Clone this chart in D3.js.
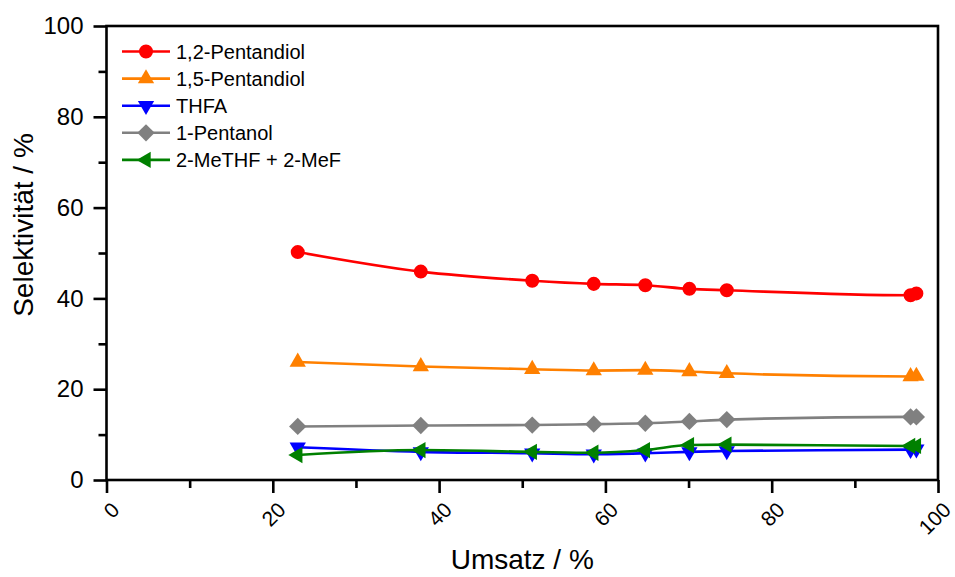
<!DOCTYPE html>
<html>
<head>
<meta charset="utf-8">
<script src="https://cdn.jsdelivr.net/npm/d3@7"></script>
<style>
  html, body { margin: 0; padding: 0; background: #fff; }
  svg text { font-family: "Liberation Sans", Arial, sans-serif; fill: #000; }
</style>
</head>
<body>
<svg id="chart" width="955" height="577"></svg>
<script>
// ---- data ----
const conversion = [23.0, 37.8, 51.2, 58.6, 64.8, 70.1, 74.6, 96.7, 97.4];
const pentandiol12 = [50.2, 45.9, 43.9, 43.2, 42.9, 42.1, 41.8, 40.7, 41.1];
const pentandiol15 = [26.0, 25.0, 24.4, 24.1, 24.2, 23.9, 23.5, 22.8, 22.9];
const thfa = [7.2, 6.2, 5.9, 5.7, 5.9, 6.2, 6.4, 6.7, 6.8];
const pentanol1 = [11.8, 12.0, 12.1, 12.3, 12.5, 12.9, 13.3, 13.9, 13.9];
const meTHF = [5.5, 6.6, 6.2, 6.0, 6.6, 7.7, 7.8, 7.5, 7.5];
const seriesNames = ["1,2-Pentandiol", "1,5-Pentandiol", "THFA", "1-Pentanol", "2-MeTHF + 2-MeF"];
const xTicks = [0, 20, 40, 60, 80, 100];
const yTicks = [0, 20, 40, 60, 80, 100];
const xLabel = "Umsatz / %";
const yLabel = "Selektivität / %";

const series = [
  { name: seriesNames[0], values: pentandiol12, color: "#ff0000", symbol: "circle" },
  { name: seriesNames[1], values: pentandiol15, color: "#ff8000", symbol: "triUp" },
  { name: seriesNames[2], values: thfa, color: "#0000ff", symbol: "triDown" },
  { name: seriesNames[3], values: pentanol1, color: "#808080", symbol: "diamond" },
  { name: seriesNames[4], values: meTHF, color: "#008000", symbol: "triLeft" }
];

// ---- layout ----
const svg = d3.select("#chart");
const L = 106.5, R = 938, T = 26, B = 480;
const x = d3.scaleLinear().domain([0, 100]).range([L, R]);
const y = d3.scaleLinear().domain([0, 100]).range([B, T]);

const axisW = 2.6;

// minor ticks
const xMinor = d3.range(10, 100, 20);
const yMinor = d3.range(10, 100, 20);

// X axis
const gx = svg.append("g").attr("transform", `translate(0,${B})`);
gx.call(d3.axisBottom(x).tickValues(xTicks).tickSize(13).tickFormat(""));
gx.append("g").call(d3.axisBottom(x).tickValues(xMinor).tickSize(8).tickFormat(""));
gx.selectAll(".domain").remove();
gx.selectAll("line").attr("stroke", "#000").attr("stroke-width", axisW);

svg.append("g").selectAll("text").data(xTicks).join("text")
  .attr("transform", d => `translate(${x(d) + 9},506) rotate(-45)`)
  .attr("text-anchor", "end")
  .attr("dy", "0.35em")
  .style("font-size", "21px")
  .text(d => d);

// Y axis
const gy = svg.append("g").attr("transform", `translate(${L},0)`);
gy.call(d3.axisLeft(y).tickValues(yTicks).tickSize(13).tickPadding(10).tickFormat(d => d));
gy.append("g").call(d3.axisLeft(y).tickValues(yMinor).tickSize(8).tickFormat(""));
gy.selectAll(".domain").remove();
gy.selectAll("line").attr("stroke", "#000").attr("stroke-width", axisW);
gy.selectAll("text").style("font-size", "24px").attr("font-family", "Liberation Sans, Arial, sans-serif");

// frame
svg.append("rect")
  .attr("x", L).attr("y", T).attr("width", R - L).attr("height", B - T)
  .attr("fill", "none").attr("stroke", "#000").attr("stroke-width", axisW);

// axis titles
svg.append("text")
  .attr("x", (L + R) / 2).attr("y", 569)
  .attr("text-anchor", "middle")
  .style("font-size", "28px")
  .text(xLabel);

svg.append("text")
  .attr("transform", "translate(33,225) rotate(-90)")
  .attr("text-anchor", "middle")
  .style("font-size", "28px")
  .text(yLabel);

// symbols
function symbolPath(kind) {
  switch (kind) {
    case "circle": return { d: d3.symbol(d3.symbolCircle, 154)(), rot: 0 };
    case "triUp": return { d: d3.symbol(d3.symbolTriangle, 115)(), rot: 0 };
    case "triDown": return { d: d3.symbol(d3.symbolTriangle, 115)(), rot: 180 };
    case "triLeft": return { d: d3.symbol(d3.symbolTriangle, 115)(), rot: -90 };
    case "diamond": return { d: d3.symbol(d3.symbolSquare, 150)(), rot: 45 };
  }
}

const line = d3.line().x(d => x(d[0])).y(d => y(d[1])).curve(d3.curveMonotoneX);

const plot = svg.append("g");
series.forEach(s => {
  const pts = conversion.map((c, i) => [c, s.values[i]]);
  const g = plot.append("g");
  g.append("path").datum(pts)
    .attr("d", line)
    .attr("fill", "none")
    .attr("stroke", s.color)
    .attr("stroke-width", 2.6);
  const sp = symbolPath(s.symbol);
  g.selectAll("path.m").data(pts).join("path")
    .attr("class", "m")
    .attr("d", sp.d)
    .attr("transform", d => `translate(${x(d[0])},${y(d[1])}) rotate(${sp.rot})`)
    .attr("fill", s.color);
});

// legend
const legend = svg.append("g");
const legY0 = 51.5, legDy = 27.1;
series.forEach((s, i) => {
  const yy = legY0 + i * legDy;
  legend.append("line")
    .attr("x1", 122).attr("x2", 170).attr("y1", yy).attr("y2", yy)
    .attr("stroke", s.color).attr("stroke-width", 2.6);
  const sp = symbolPath(s.symbol);
  legend.append("path")
    .attr("d", sp.d)
    .attr("transform", `translate(146,${yy}) rotate(${sp.rot})`)
    .attr("fill", s.color);
  legend.append("text")
    .attr("x", 176).attr("y", yy)
    .attr("dy", "0.35em")
    .style("font-size", "20px")
    .text(s.name);
});
</script>
</body>
</html>
